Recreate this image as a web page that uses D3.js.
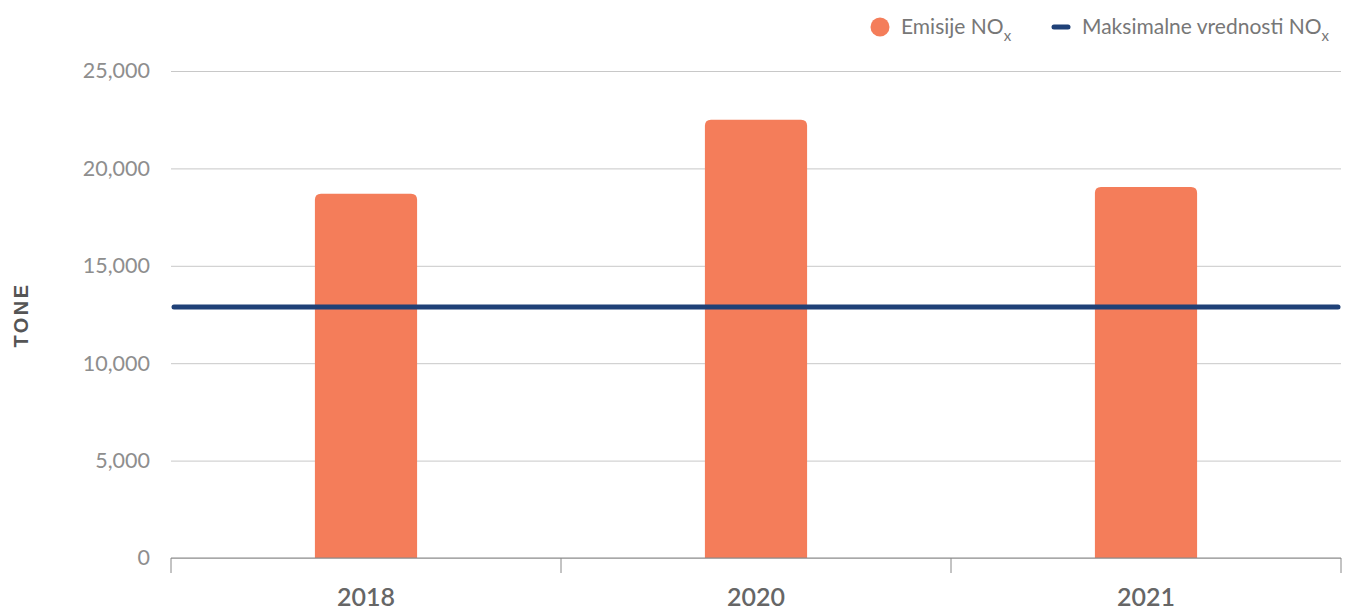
<!DOCTYPE html>
<html><head><meta charset="utf-8">
<script src="https://cdn.jsdelivr.net/npm/d3@7"></script>
<style>body{margin:0;background:#fff;font-family:Lato,sans-serif}</style>
</head><body><svg id="c" width="1354" height="610"></svg>
<script>
const categories = ["2018", "2020", "2021"];
const emissions = [18700, 22500, 19050];
const maxValue = [12890, 12890, 12890];
const yTicks = [0, 5000, 10000, 15000, 20000, 25000];

const svg = d3.select("#c");
const m = {l:171, r:1341, t:71, b:558};
const x = d3.scaleBand().domain(categories).range([m.l, m.r]).padding(0);
const y = d3.scaleLinear().domain([0, 25000]).range([m.b, m.t]);
const fmt = d3.format(",");

// grid
const yAxis = d3.axisLeft(y).tickValues(yTicks).tickSize(-(m.r - m.l)).tickFormat(fmt).tickPadding(21);
const gy = svg.append("g").attr("transform", `translate(${m.l},0)`).call(yAxis);
gy.select(".domain").remove();
gy.selectAll(".tick line").attr("stroke", "#c8c8c8").attr("stroke-width", 1);
gy.selectAll(".tick text").attr("fill", "#8e8e8e").style("font-family", "Lato").style("font-size", "21.5px").style("font-weight", "400");

// bars
const bw = x.bandwidth() * 0.262;
svg.append("g").selectAll("path").data(categories).join("path")
  .attr("fill", "#f47d5a")
  .attr("d", (c, i) => {
    const cx = x(c) + x.bandwidth()/2, x0 = cx - bw/2, x1 = cx + bw/2;
    const y0 = y(emissions[i]), yb = y(0), r = 6;
    return `M${x0},${yb}V${y0+r}Q${x0},${y0} ${x0+r},${y0}H${x1-r}Q${x1},${y0} ${x1},${y0+r}V${yb}Z`;
  });

// x axis
const xAxis = d3.axisBottom(x).tickSize(0).tickPadding(0);
const gx = svg.append("g").attr("transform", `translate(0,${m.b})`).call(xAxis);
gx.select(".domain").attr("stroke", "#888").attr("d", `M${m.l},0H${m.r}`);
gx.selectAll(".tick text").attr("dy", null).attr("y", 48).attr("fill", "#666")
  .style("font-family", "Lato").style("font-size", "25px").style("font-weight", "600");
const bounds = [...categories.map(c => x(c)), m.r];
gx.selectAll(".bnd").data(bounds).join("line").attr("class","bnd")
  .attr("x1", d => d).attr("x2", d => d).attr("y1", 0).attr("y2", 15).attr("stroke", "#888");

// max line
const lineX = d3.scaleLinear().domain([0, categories.length - 1]).range([m.l + 3, m.r - 3]);
svg.append("path").datum(maxValue)
  .attr("d", d3.line().x((d, i) => lineX(i)).y(d => y(d)))
  .attr("fill", "none").attr("stroke", "#1f4177").attr("stroke-width", 5).attr("stroke-linecap", "round");

// y title
svg.append("text").attr("transform", "translate(28,315) rotate(-90)")
  .attr("text-anchor", "middle").attr("fill", "#555").style("font-family", "'Liberation Sans', Arial, sans-serif")
  .style("font-size", "20px").style("font-weight", "700")
  .style("letter-spacing", "2.5px").text("TONE");

// legend
const lg = svg.append("g");
lg.append("circle").attr("cx", 880).attr("cy", 27).attr("r", 9.5).attr("fill", "#f47d5a");
const t1 = lg.append("text").attr("x", 901).attr("y", 34).attr("fill", "#777").style("font-size", "21px");
t1.append("tspan").text("Emisije NO");
t1.append("tspan").attr("dy", 7).style("font-size", "15px").text("x");
lg.append("line").attr("x1", 1054).attr("x2", 1068).attr("y1", 27).attr("y2", 27)
  .attr("stroke", "#1f4177").attr("stroke-width", 5).attr("stroke-linecap", "round");
const t2 = lg.append("text").attr("x", 1082).attr("y", 34).attr("fill", "#777").style("font-size", "21px");
t2.append("tspan").text("Maksimalne vrednosti NO");
t2.append("tspan").attr("dy", 7).style("font-size", "15px").text("x");
</script></body></html>
